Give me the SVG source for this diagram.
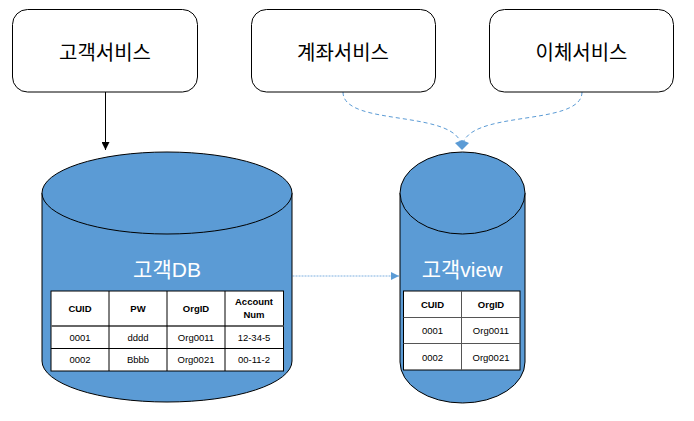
<svg xmlns="http://www.w3.org/2000/svg" width="694" height="421" viewBox="0 0 694 421">
<defs>
<style>
.box{fill:#fff;stroke:#000;stroke-width:1}
.ktxt{font-family:"Liberation Sans","Noto Sans CJK KR",sans-serif;font-size:20px;fill:#000;text-anchor:middle}
.cyl{fill:#5B9BD5;stroke:#000;stroke-width:1}
.title{font-family:"Liberation Sans","Noto Sans CJK KR",sans-serif;font-size:21px;fill:#fff;text-anchor:middle}
.cell{fill:#fff;stroke:#000;stroke-width:1}
.hdr{font-family:"Liberation Sans",sans-serif;font-size:9.5px;font-weight:bold;fill:#000;text-anchor:middle}
.dat{font-family:"Liberation Sans",sans-serif;font-size:9.5px;fill:#000;text-anchor:middle}
.dash{fill:none;stroke:#5B9BD5;stroke-width:1;stroke-dasharray:4,3}
.dot{fill:none;stroke:#7FB0E0;stroke-width:1;stroke-dasharray:2,1}
</style>
<marker id="ab" viewBox="0 0 10 10" refX="10" refY="5" markerWidth="8" markerHeight="8" markerUnits="userSpaceOnUse" orient="auto">
<path d="M0,0 L10,5 L0,10 z" fill="#000"/>
</marker>
<marker id="abl" viewBox="0 0 10 10" refX="10" refY="5" markerWidth="8" markerHeight="8" markerUnits="userSpaceOnUse" orient="auto">
<path d="M0,0 L10,5 L0,10 z" fill="#5B9BD5"/>
</marker>
</defs>

<g id="connectors">
<line x1="105.5" y1="92" x2="105.5" y2="150" stroke="#000" stroke-width="1" marker-end="url(#ab)"/>
<line x1="292.5" y1="276" x2="399" y2="276" class="dot" marker-end="url(#abl)"/>
<path d="M343,92 C343,128 462,108 462,149" class="dash"/>
<path d="M582,92 C582,128 462,108 462,149" class="dash"/>
<path d="M455,143 L462,140 L469,143 L462,150 z" fill="#5B9BD5"/>
</g>

<g id="svc-customer">
<rect x="12.5" y="9.5" width="185" height="82.5" rx="15" class="box"/>
<text x="105" y="60" class="ktxt">고객서비스</text>
</g>
<g id="svc-account">
<rect x="251.5" y="9.5" width="184" height="82.5" rx="15" class="box"/>
<text x="343" y="60" class="ktxt">계좌서비스</text>
</g>
<g id="svc-transfer">
<rect x="489.5" y="9.5" width="184" height="82.5" rx="15" class="box"/>
<text x="581.5" y="60" class="ktxt">이체서비스</text>
</g>

<g id="db-customer">
<path d="M42,193 L42,361 A125,41 0 0 0 292,361 L292,193" class="cyl"/>
<ellipse cx="167" cy="193" rx="125" ry="41" class="cyl"/>
<text x="167" y="277" class="title">고객DB</text>
<rect x="51" y="291" width="232.5" height="80" class="cell"/>
<line x1="51" y1="326" x2="283.5" y2="326" stroke="#666" stroke-width="2"/>
<line x1="51" y1="348.5" x2="283.5" y2="348.5" stroke="#000"/>
<line x1="109" y1="291" x2="109" y2="371" stroke="#000"/>
<line x1="167" y1="291" x2="167" y2="371" stroke="#000"/>
<line x1="225" y1="291" x2="225" y2="371" stroke="#000"/>
<text x="80" y="312" class="hdr">CUID</text>
<text x="138" y="312" class="hdr">PW</text>
<text x="196" y="312" class="hdr">OrgID</text>
<text x="254" y="305" class="hdr">Account</text>
<text x="254" y="317.5" class="hdr">Num</text>
<text x="80" y="341" class="dat">0001</text>
<text x="138" y="341" class="dat">dddd</text>
<text x="196" y="341" class="dat">Org0011</text>
<text x="254" y="341" class="dat">12-34-5</text>
<text x="80" y="363" class="dat">0002</text>
<text x="138" y="363" class="dat">Bbbb</text>
<text x="196" y="363" class="dat">Org0021</text>
<text x="254" y="363" class="dat">00-11-2</text>
</g>

<g id="view-customer">
<path d="M400,193 L400,362 A62.5,41 0 0 0 525,362 L525,193" class="cyl"/>
<ellipse cx="462.5" cy="193" rx="62.5" ry="41" class="cyl"/>
<text x="462" y="277" class="title">고객view</text>
<rect x="403.5" y="291" width="116.5" height="79" class="cell"/>
<line x1="403.5" y1="317.5" x2="520" y2="317.5" stroke="#555"/>
<line x1="403.5" y1="343.5" x2="520" y2="343.5" stroke="#555"/>
<line x1="461.5" y1="291" x2="461.5" y2="370" stroke="#555"/>
<text x="432.5" y="308" class="hdr">CUID</text>
<text x="491" y="308" class="hdr">OrgID</text>
<text x="432.5" y="334" class="dat">0001</text>
<text x="491" y="334" class="dat">Org0011</text>
<text x="432.5" y="361" class="dat">0002</text>
<text x="491" y="361" class="dat">Org0021</text>
</g>
</svg>
